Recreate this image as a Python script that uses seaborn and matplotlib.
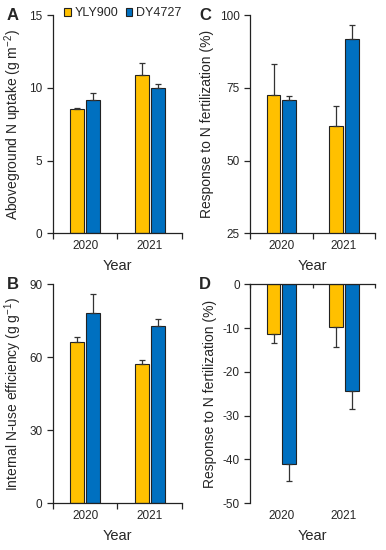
import matplotlib
matplotlib.use("Agg")
import matplotlib.pyplot as plt
import seaborn as sns
import pandas as pd
from matplotlib.patches import Patch

years = ["2020", "2021"]
cultivars = ["YLY900", "DY4727"]
colors = ["#FFC000", "#0070C0"]

# A: aboveground N uptake
uptake_yly = [8.53, 10.87]
uptake_yly_err = [0.07, 0.85]
uptake_dy = [9.15, 10.0]
uptake_dy_err = [0.50, 0.25]

# B: internal N-use efficiency
ine_yly = [66.4, 57.1]
ine_yly_err = [1.9, 1.8]
ine_dy = [78.1, 72.9]
ine_dy_err = [7.8, 2.9]

# C: response to N fertilization (positive)
respc_yly = [72.5, 61.9]
respc_yly_err = [10.9, 6.8]
respc_dy = [70.8, 92.0]
respc_dy_err = [1.4, 4.8]

# D: response to N fertilization (negative)
respd_yly = [-11.4, -9.8]
respd_yly_err = [1.9, 4.4]
respd_dy = [-41.0, -24.4]
respd_dy_err = [3.9, 4.1]

sns.set_style("ticks")
plt.rcParams["font.family"] = ["Liberation Sans", "DejaVu Sans"]
plt.rcParams["mathtext.fontset"] = "custom"
plt.rcParams["mathtext.rm"] = "Liberation Sans"
plt.rcParams["mathtext.default"] = "regular"
plt.rcParams["axes.unicode_minus"] = False

fig = plt.figure(figsize=(3.86, 5.5), dpi=100)
ax_a = fig.add_axes([0.137, 0.576, 0.334, 0.396])
ax_c = fig.add_axes([0.648, 0.576, 0.324, 0.396])
ax_b = fig.add_axes([0.137, 0.085, 0.334, 0.398])
ax_d = fig.add_axes([0.648, 0.085, 0.324, 0.398])


def make_df(yly, dy):
    return pd.DataFrame({
        "year": years * 2,
        "cultivar": [cultivars[0]] * 2 + [cultivars[1]] * 2,
        "value": list(yly) + list(dy),
    })


def panel(ax, yly, dy, yly_err, dy_err, ylim, yticks, ylabel, letter, letter_x,
          negative=False):
    df = make_df(yly, dy)
    sns.barplot(data=df, x="year", y="value", hue="cultivar", hue_order=cultivars,
                palette=colors, saturation=1, width=0.5, gap=0.13, errorbar=None,
                edgecolor="#222222", linewidth=0.8, ax=ax, legend=False)
    for cont, errs in zip(ax.containers, [yly_err, dy_err]):
        for bar, e in zip(cont, errs):
            x = bar.get_x() + bar.get_width() / 2
            y = bar.get_y() + bar.get_height()
            yerr = [[e], [0]] if negative else [[0], [e]]
            ax.errorbar(x, y, yerr=yerr, fmt="none", ecolor="#333333",
                        elinewidth=0.9, capsize=2.5, capthick=0.9, zorder=1)
    ax.set_xlim(-0.5, 1.5)
    ax.set_ylim(*ylim)
    ax.set_yticks(yticks)
    ax.set_xlabel("Year", fontsize=10.5, labelpad=5)
    ax.set_ylabel(ylabel, fontsize=10, labelpad=4)
    ax.tick_params(axis="y", direction="out", length=4, width=0.9, labelsize=8.5)
    ax.set_xticks([0, 1])
    ax.set_xticklabels(years)
    ax.set_xticks([-0.5, 0.5, 1.5], minor=True)
    ax.tick_params(axis="x", which="major", length=0, labelsize=8.5, pad=5)
    for s in ax.spines.values():
        s.set_linewidth(0.9)
        s.set_color("#222222")
    ax.spines["right"].set_visible(False)
    if negative:
        ax.spines["bottom"].set_visible(False)
        ax.spines["top"].set_visible(True)
        ax.tick_params(axis="x", which="minor", bottom=False, top=True,
                       direction="in", length=3, width=0.9)
    else:
        ax.spines["top"].set_visible(False)
        ax.tick_params(axis="x", which="minor", direction="out", length=4, width=0.9)
    ax.text(letter_x, 1.0, letter, transform=ax.transAxes, fontsize=12,
            fontweight="bold", ha="center", va="center")


panel(ax_a, uptake_yly, uptake_dy, uptake_yly_err, uptake_dy_err, (0, 15),
      [0, 5, 10, 15], "Aboveground N uptake (g m$^{-2}$)", "A", -0.31)
panel(ax_b, ine_yly, ine_dy, ine_yly_err, ine_dy_err, (0, 90),
      [0, 30, 60, 90], "Internal N-use efficiency (g g$^{-1}$)", "B", -0.31)
panel(ax_c, respc_yly, respc_dy, respc_yly_err, respc_dy_err, (25, 100),
      [25, 50, 75, 100], "Response to N fertilization (%)", "C", -0.36)
panel(ax_d, respd_yly, respd_dy, respd_yly_err, respd_dy_err, (-50, 0),
      [-50, -40, -30, -20, -10, 0], "Response to N fertilization (%)", "D", -0.36,
      negative=True)

handles = [Patch(facecolor=c, edgecolor="#222222", linewidth=0.8) for c in colors]
ax_a.legend(handles, cultivars, loc="upper left", bbox_to_anchor=(0.05, 1.06),
            ncol=2, frameon=False, fontsize=9, handlelength=0.55, handleheight=0.55,
            handletextpad=0.25, columnspacing=0.6, borderaxespad=0)

fig.savefig("out.png", dpi=100)
